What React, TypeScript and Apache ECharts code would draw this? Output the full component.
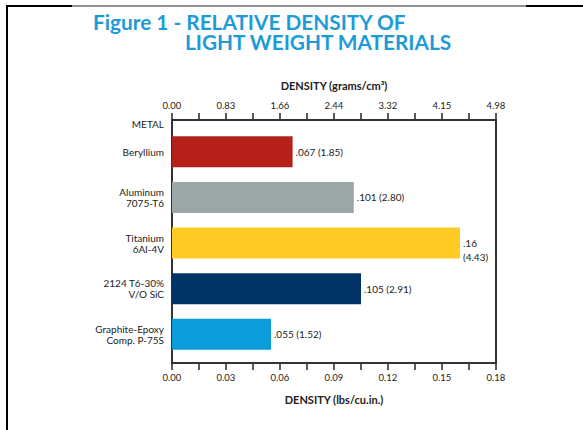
import React, { useEffect, useRef } from "react";
import * as echarts from "echarts";

const categories = [
  "Beryllium",
  "Aluminum\n7075-T6",
  "Titanium\n6Al-4V",
  "2124 T6-30%\nV/O SiC",
  "Graphite-Epoxy\nComp. P-75S",
];
const lbsValues = [0.067, 0.101, 0.16, 0.105, 0.055];
const gramValues = [1.85, 2.8, 4.43, 2.91, 1.52];
const barColors = ["#B6201A", "#9BA7A7", "#FFCB25", "#003366", "#0A9CDB"];
const bottomTicks = ["0.00", "0.03", "0.06", "0.09", "0.12", "0.15", "0.18"];
const topTicks = ["0.00", "0.83", "1.66", "2.44", "3.32", "4.15", "4.98"];

const FONT = "Lato, 'Open Sans', sans-serif";
const INK = "#222";

export default function App() {
  const ref = useRef<HTMLDivElement>(null);
  useEffect(() => {
    if (!ref.current) return;
    document.body.style.margin = "0";
    const chart = echarts.init(ref.current, null, { renderer: "svg" });
    const axisLineStyle = { color: "#333", width: 2 };
    const W = 583;
    const gridL = 172, gridR = 87, gridTop = 120, gridH = 243;
    const plotW = W - gridL - gridR;
    const xAxisCommon = {
      gridIndex: 0, type: "value", min: 0,
      nameLocation: "middle",
      nameTextStyle: { fontFamily: FONT, fontWeight: "bold", fontSize: 11, color: INK },
      axisLine: { show: true, onZero: false, lineStyle: axisLineStyle },
      axisTick: { show: false },
      splitLine: { show: false },
    };

    // tick marks: one at each label plus one minor tick between labels
    const nTicks = (bottomTicks.length - 1) * 2;
    const tickStyle = { stroke: "#333", lineWidth: 1.6 };
    const tickLines: any[] = [];
    for (let k = 0; k <= nTicks; k++) {
      const x = gridL + (plotW * k) / nTicks;
      tickLines.push({ type: "line", shape: { x1: x, y1: gridTop - 7, x2: x, y2: gridTop }, style: tickStyle });
      tickLines.push({ type: "line", shape: { x1: x, y1: gridTop + gridH, x2: x, y2: gridTop + gridH + 7 }, style: tickStyle });
    }

    chart.setOption({
      animation: false,
      backgroundColor: "#fff",
      grid: [
        { left: gridL, right: gridR, top: gridTop, height: gridH, show: true, borderColor: "#333", borderWidth: 2 },
        { left: gridL, right: gridR, top: 128.9, height: 228.3 },
      ],
      xAxis: [
        {
          ...xAxisCommon, position: "top", max: 4.98, interval: 0.83,
          name: "DENSITY (grams/cm³)", nameGap: 29,
          axisLabel: { margin: 10, fontFamily: FONT, fontSize: 9.5, color: INK, formatter: (v: number) => topTicks[Math.round(v / 0.83)] },
        },
        {
          ...xAxisCommon, position: "bottom", max: 0.18, interval: 0.03,
          name: "DENSITY (lbs/cu.in.)", nameGap: 31,
          axisLabel: { margin: 9, fontFamily: FONT, fontSize: 9.5, color: INK, formatter: (v: number) => bottomTicks[Math.round(v / 0.03)] },
        },
        { gridIndex: 1, type: "value", min: 0, max: 0.18, show: false },
      ],
      yAxis: [
        { gridIndex: 0, type: "value", min: 0, max: 1, show: false },
        {
          gridIndex: 1, type: "category", inverse: true, data: categories,
          axisLine: { show: false }, axisTick: { show: false },
          axisLabel: { margin: 8, fontFamily: FONT, fontSize: 10, lineHeight: 11, color: INK },
        },
      ],
      graphic: [
        { type: "line", shape: { x1: 7, y1: 5, x2: 7, y2: 430 }, style: { stroke: "#000", lineWidth: 2 } },
        { type: "line", shape: { x1: 6, y1: 6, x2: 72, y2: 6 }, style: { stroke: "#000", lineWidth: 2 } },
        { type: "line", shape: { x1: 72, y1: 6, x2: 526, y2: 6 }, style: { stroke: "#222", lineWidth: 1 } },
        { type: "line", shape: { x1: 526, y1: 6, x2: 583, y2: 6 }, style: { stroke: "#000", lineWidth: 2 } },
        {
          type: "text", x: 93, y: 21,
          style: { text: "Figure 1 - RELATIVE DENSITY OF", fill: "#1E9BD7", font: `bold 20.8px ${FONT}`, textVerticalAlign: "middle" },
        },
        {
          type: "text", x: 185, y: 41,
          style: { text: "LIGHT WEIGHT MATERIALS", fill: "#1E9BD7", font: `bold 20.8px ${FONT}`, textVerticalAlign: "middle" },
        },
        {
          type: "text", x: 164, y: 124,
          style: { text: "METAL", fill: INK, font: `10px ${FONT}`, textAlign: "right", textVerticalAlign: "middle" },
        },
        ...tickLines,
      ],
      series: [
        {
          type: "bar", xAxisIndex: 2, yAxisIndex: 1, barWidth: 31,
          data: lbsValues.map((v, i) => ({
            value: v,
            itemStyle: { color: barColors[i] },
            label: i === 2 ? { offset: [0, 7] } : undefined,
          })),
          label: {
            show: true, position: "right", distance: 3,
            fontFamily: FONT, fontSize: 10, lineHeight: 14, color: INK, align: "left",
            formatter: (p: any) => {
              const lbs = String(lbsValues[p.dataIndex]).replace(/^0/, "");
              const g = `(${gramValues[p.dataIndex].toFixed(2)})`;
              return p.dataIndex === 2 ? `${lbs}\n${g}` : `${lbs} ${g}`;
            },
          },
        },
      ],
    });
    return () => chart.dispose();
  }, []);
  return (
    <div style={{ position: "fixed", left: 0, top: 0, width: 583, height: 430 }}>
      <div ref={ref} style={{ width: 583, height: 430 }} />
    </div>
  );
}
